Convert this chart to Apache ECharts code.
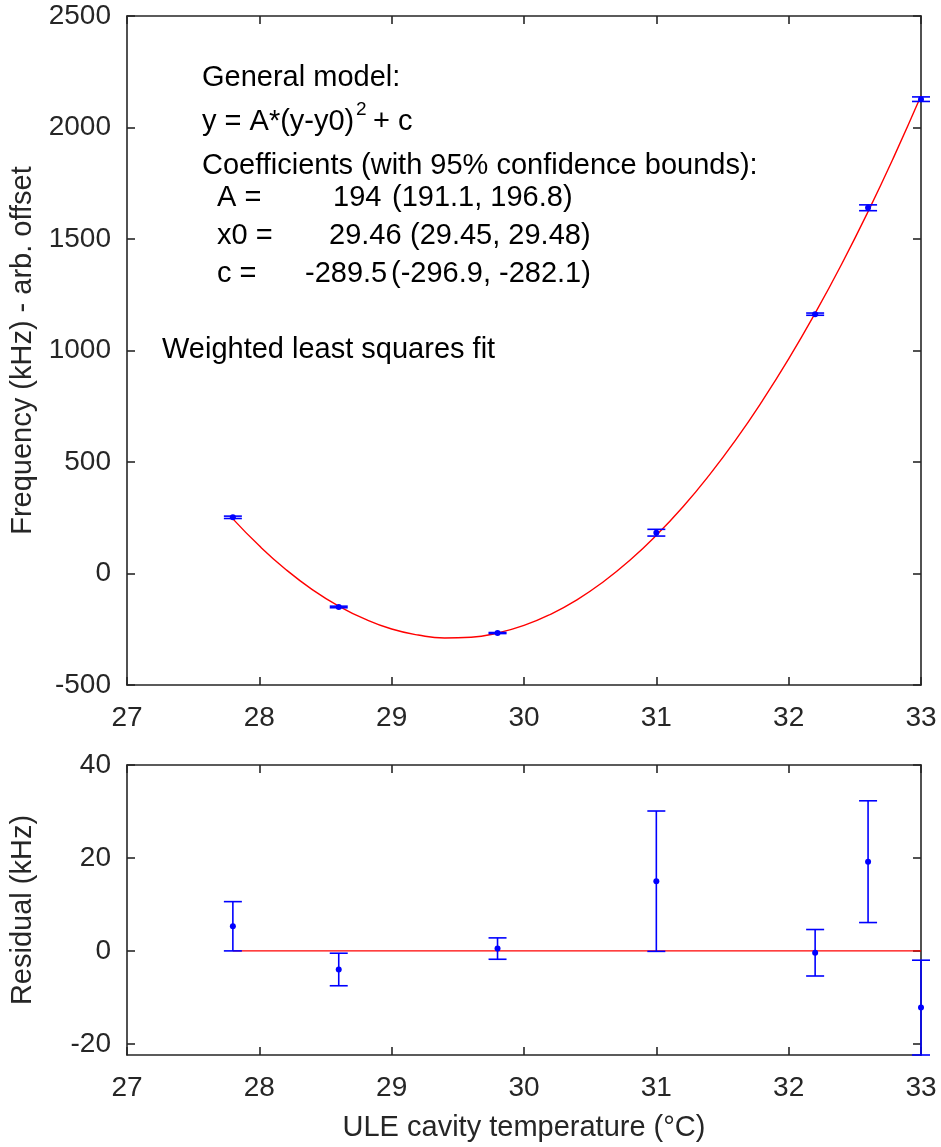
<!DOCTYPE html>
<html>
<head>
<meta charset="utf-8">
<script src="https://cdn.jsdelivr.net/npm/echarts@6/dist/echarts.min.js"></script>
<style>
  html, body { margin: 0; padding: 0; background: #fff; }
  #chart { width: 941px; height: 1147px; }
</style>
</head>
<body>
<div id="chart"></div>
<script>
// measured points (temperature in degC, frequency in kHz)
const temps = [27.8, 28.6, 29.8, 31.0, 32.2, 32.6, 33.0];
const freqs = [252, -150, -267, 183, 1163, 1640, 2127];
const resid = [5.3, -4.0, 0.5, 15.0, -0.4, 19.2, -12.2];
const errBar = [5.3, 3.5, 2.3, 15.1, 5.0, 13.1, 10.2];

// fitted curve
const fitX = [27.8, 28.0, 28.2, 28.4, 28.6, 28.8, 29.0, 29.2, 29.4, 29.6, 29.8, 30.0, 30.2,
              30.4, 30.6, 30.8, 31.0, 31.2, 31.4, 31.6, 31.8, 32.0, 32.2, 32.4, 32.6, 32.8, 33.0];
const fitY = [245, 124, 18, -72, -146, -205, -249, -276, -289, -286, -267, -233, -183,
              -118, -37, 59, 171, 298, 441, 599, 773, 962, 1167, 1387, 1623, 1875, 2142];

const residTicks = [-20, 0, 20, 40];

const FONT = 'Liberation Sans, Arial, Helvetica, sans-serif';
const AXC = '#262626';
const FS = 28;     // tick labels
const NFS = 29;    // axis names
const TFS = 29;    // annotation text

const chart = echarts.init(document.getElementById('chart'));

const mainData = temps.map((t, i) => [t, freqs[i], errBar[i]]);
const residData = temps.map((t, i) => [t, resid[i], errBar[i]]);
const fitData = fitX.map((x, i) => [x, fitY[i]]);

function renderErr(params, api) {
    const x = api.value(0), y = api.value(1), e = api.value(2);
    const hi = api.coord([x, y + e]);
    const lo = api.coord([x, y - e]);
    const c = api.coord([x, y]);
    const w = 9;
    const st = { stroke: '#0000ff', lineWidth: 1.6 };
    return {
        type: 'group',
        children: [
            { type: 'line', shape: { x1: c[0], y1: hi[1], x2: c[0], y2: lo[1] }, style: st },
            { type: 'line', shape: { x1: c[0] - w, y1: hi[1], x2: c[0] + w, y2: hi[1] }, style: st },
            { type: 'line', shape: { x1: c[0] - w, y1: lo[1], x2: c[0] + w, y2: lo[1] }, style: st },
            { type: 'circle', shape: { cx: c[0], cy: c[1], r: 3 }, style: { fill: '#0000ff' } }
        ]
    };
}

const plain = v => String(v);

const baseAxis = {
    axisLine: { show: true, onZero: false, lineStyle: { color: AXC, width: 1.6 } },
    axisTick: { show: true, inside: true, length: 8, lineStyle: { color: AXC, width: 1.6 } },
    splitLine: { show: false },
    axisLabel: { color: AXC, fontSize: FS, fontFamily: FONT, formatter: plain }
};

function xAx(grid, pos, labels, extra) {
    return Object.assign({}, baseAxis, {
        type: 'value', gridIndex: grid, position: pos, min: 27, max: 33, interval: 1,
        axisLabel: Object.assign({}, baseAxis.axisLabel, { show: labels, margin: 19 })
    }, extra || {});
}

const nameStyle = { color: AXC, fontSize: NFS, fontFamily: FONT };

function txt(left, top, text, size) {
    return { type: 'text', left: left, top: top,
             style: { text: text, font: (size || TFS) + 'px ' + FONT, fill: '#000' } };
}

option = {
    animation: false,
    backgroundColor: '#fff',
    grid: [
        { left: 125, top: 16, width: 796, height: 669 },
        { left: 125, top: 765, width: 796, height: 290 }
    ],
    xAxis: [
        xAx(0, 'bottom', true),
        xAx(0, 'top', false),
        xAx(1, 'bottom', true, {
            name: 'ULE cavity temperature (°C)', nameLocation: 'middle', nameGap: 58,
            nameTextStyle: nameStyle
        }),
        xAx(1, 'top', false)
    ],
    yAxis: [
        Object.assign({}, baseAxis, {
            type: 'value', gridIndex: 0, position: 'left', min: -500, max: 2500, interval: 500,
            axisLabel: Object.assign({}, baseAxis.axisLabel, { margin: 16 }),
            name: 'Frequency (kHz) - arb. offset', nameLocation: 'middle', nameGap: 90,
            nameTextStyle: nameStyle
        }),
        Object.assign({}, baseAxis, {
            type: 'value', gridIndex: 0, position: 'right', min: -500, max: 2500, interval: 500,
            axisLabel: { show: false }
        }),
        Object.assign({}, baseAxis, {
            type: 'value', gridIndex: 1, position: 'left', min: -22.4, max: 40,
            axisTick: Object.assign({}, baseAxis.axisTick, { customValues: residTicks }),
            axisLabel: Object.assign({}, baseAxis.axisLabel, { margin: 16, customValues: residTicks }),
            name: 'Residual (kHz)', nameLocation: 'middle', nameGap: 90,
            nameTextStyle: nameStyle
        }),
        Object.assign({}, baseAxis, {
            type: 'value', gridIndex: 1, position: 'right', min: -22.4, max: 40,
            axisTick: Object.assign({}, baseAxis.axisTick, { customValues: residTicks }),
            axisLabel: { show: false }
        })
    ],
    graphic: [
        txt(202, 63, 'General model:'),
        txt(202, 107, 'y = A*(y-y0)'),
        txt(356, 100, '2', 19),
        txt(373, 107, '+ c'),
        txt(202, 151, 'Coefficients (with 95% confidence bounds):'),
        txt(217, 183, 'A ='),
        txt(333, 183, '194'),
        txt(392, 183, '(191.1, 196.8)'),
        txt(217, 221, 'x0 ='),
        txt(329, 221, '29.46'),
        txt(410, 221, '(29.45, 29.48)'),
        txt(217, 259, 'c ='),
        txt(305, 259, '-289.5'),
        txt(391, 259, '(-296.9, -282.1)'),
        txt(162, 335, 'Weighted least squares fit')
    ],
    series: [
        {
            type: 'line', xAxisIndex: 0, yAxisIndex: 0, data: fitData, smooth: true,
            showSymbol: false, lineStyle: { color: '#ff0000', width: 1.4 }, z: 2
        },
        {
            type: 'custom', xAxisIndex: 0, yAxisIndex: 0, data: mainData,
            renderItem: renderErr, clip: false, z: 3
        },
        {
            type: 'line', xAxisIndex: 2, yAxisIndex: 2, data: [[27.8, 0], [33, 0]],
            showSymbol: false, lineStyle: { color: '#ff0000', width: 1.4 }, z: 2
        },
        {
            type: 'custom', xAxisIndex: 2, yAxisIndex: 2, data: residData,
            renderItem: renderErr, clip: false, z: 3
        }
    ]
};

chart.setOption(option);
</script>
</body>
</html>
